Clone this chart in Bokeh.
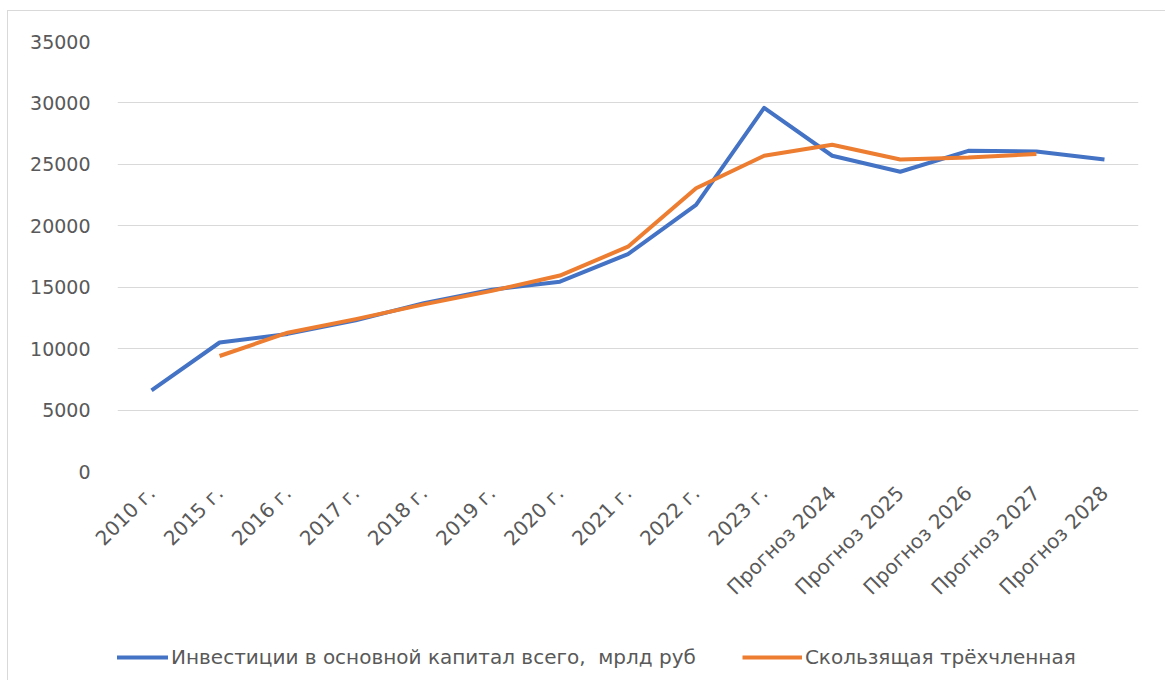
from bokeh.plotting import figure
from bokeh.models import Range1d, FactorRange, FixedTicker, Legend, LegendItem, ColumnDataSource, Spacer
from bokeh.layouts import row, column
from bokeh.embed import file_html
from bokeh.resources import INLINE
import math

categories = ["2010 г.", "2015 г.", "2016 г.", "2017 г.", "2018 г.", "2019 г.", "2020 г.",
              "2021 г.", "2022 г.", "2023 г.", "Прогноз 2024", "Прогноз 2025",
              "Прогноз 2026", "Прогноз 2027", "Прогноз 2028"]
investments = [6600, 10500, 11200, 12300, 13700, 14800, 15450, 17700, 21700, 29600,
               25700, 24400, 26100, 26050, 25400]
ma_categories = categories[1:14]
moving_avg = [9400, 11300, 12400, 13600, 14700, 15950, 18300, 23050, 25700, 26600,
              25400, 25550, 25850]
y_ticks = [0, 5000, 10000, 15000, 20000, 25000, 30000, 35000]
series_names = ["Инвестиции в основной капитал всего,  мрлд руб", "Скользящая трёхчленная"]
series_colors = ["#4472c4", "#ed7d31"]

FONT = "DejaVu Sans"
GREY = "#595959"
BORDER = "1px solid #d9d9d9"

x_range = FactorRange(*categories)
src1 = ColumnDataSource(dict(x=categories, y=investments))
src2 = ColumnDataSource(dict(x=ma_categories, y=moving_avg))

p = figure(width=1158, height=604, x_range=x_range,
           y_range=Range1d(0, 35000), output_backend="svg", toolbar_location=None,
           min_border=0)
p.min_border_left = 109
p.min_border_right = 28
p.min_border_top = 30
p.min_border_bottom = 144
p.outline_line_color = None
p.background_fill_color = "white"
p.border_fill_color = "white"
p.styles = {"border-left": BORDER, "border-top": BORDER}

p.line("x", "y", source=src1, line_color=series_colors[0], line_width=4, line_join="round")
p.line("x", "y", source=src2, line_color=series_colors[1], line_width=4, line_join="round")

p.xgrid.grid_line_color = None
p.ygrid.grid_line_color = "#d9d9d9"
p.ygrid.grid_line_width = 1
p.yaxis.ticker = FixedTicker(ticks=y_ticks)

for ax in (p.xaxis[0], p.yaxis[0]):
    ax.axis_line_color = None
    ax.major_tick_line_color = None
    ax.minor_tick_line_color = None
    ax.major_tick_out = 0
    ax.major_tick_in = 0
    ax.minor_tick_out = 0
    ax.major_label_text_font = FONT
    ax.major_label_text_color = GREY

p.yaxis.major_label_text_font_size = "19px"
p.xaxis.major_label_text_font_size = "20px"
p.yaxis.major_label_standoff = 27
p.xaxis.major_label_orientation = math.pi / 4
p.xaxis.major_label_standoff = 18

# legend strip: same series, drawn outside its (empty) view so only the legend shows
p2 = figure(width=1158, height=66, output_backend="svg", toolbar_location=None,
            min_border=0, x_range=x_range, y_range=Range1d(-2, -1),
            x_axis_location=None, y_axis_location=None)
p2.grid.grid_line_color = None
p2.outline_line_color = None
p2.border_fill_color = "white"
p2.background_fill_color = "white"
p2.styles = {"border-left": BORDER}
d1 = p2.line("x", "y", source=src1, line_color=series_colors[0], line_width=4)
d2 = p2.line("x", "y", source=src2, line_color=series_colors[1], line_width=4)

legend = Legend(items=[
    LegendItem(label=series_names[0], renderers=[d1]),
    LegendItem(label=series_names[1], renderers=[d2]),
], orientation="horizontal", location=(-9, 11), border_line_color=None,
    background_fill_alpha=0, padding=5, margin=0, spacing=46,
    glyph_width=60, label_standoff=3, label_text_font=FONT,
    label_text_font_size="20px", label_text_color=GREY)
p2.add_layout(legend, "center")

layout = row(Spacer(width=7), column(Spacer(height=10), p, p2))

open("out.html", "w").write(file_html(layout, INLINE))
